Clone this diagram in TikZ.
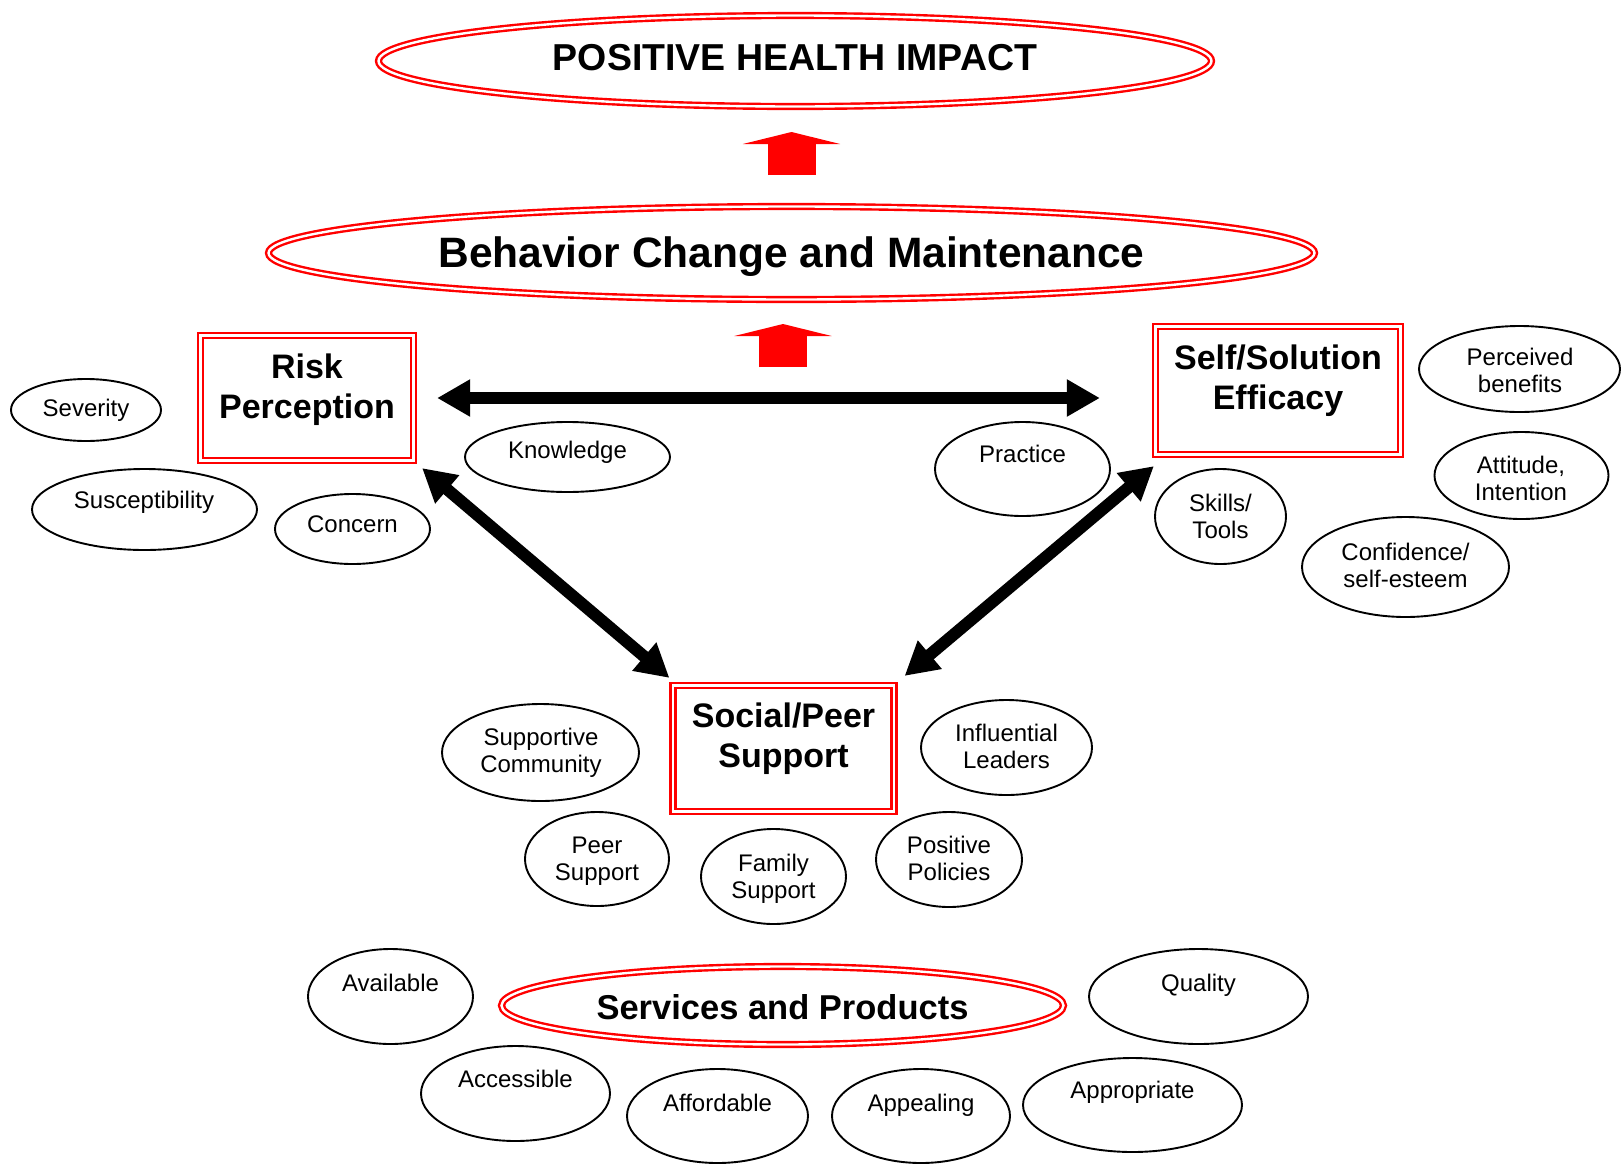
\documentclass[tikz,border=0pt]{standalone}
\usepackage{fontspec}
\setmainfont{Liberation Sans}
\usetikzlibrary{shapes.geometric,arrows.meta}

\begin{document}
\begin{tikzpicture}[x=1pt,y=-1pt,
  redline/.style={draw=red, double=white, double distance=2.4pt, line width=2.4pt},
  bigoval/.style={ellipse, redline, inner sep=0pt, outer sep=0pt},
  titlebox/.style={rectangle, redline, inner sep=0pt, outer sep=3.6pt},
  oval/.style={ellipse, draw=black, line width=1.9pt, inner sep=0pt, outer sep=0pt},
  lbl/.style={font=\fontsize{24pt}{27pt}\selectfont, align=center, anchor=base, inner sep=0pt},
  boxlbl/.style={font=\bfseries\fontsize{34pt}{40pt}\selectfont, align=center, anchor=base, inner sep=0pt},
  link/.style={line width=12pt, {Triangle[length=33pt,width=35pt]}-{Triangle[length=33pt,width=35pt]}},
  lift/.style={draw=red, line width=48pt, -{Triangle[length=12pt,width=97pt]}}]

\useasboundingbox[fill=white] (0,0) rectangle (1623,1165);

% --- outcome ellipses ---
\node[bigoval, minimum width=833pt, minimum height=91pt] (impact) at (795,61) {};
\node[font=\bfseries\fontsize{37.5pt}{40pt}\selectfont, anchor=base, inner sep=0pt] (impact-t) at (795,70) {POSITIVE HEALTH IMPACT};

\node[bigoval, minimum width=1046pt, minimum height=93pt] (behav) at (791.5,253) {};
\node[font=\bfseries\fontsize{42.5pt}{46pt}\selectfont, anchor=base, inner sep=0pt] (behav-t) at (791.5,267) {Behavior Change and Maintenance};

% --- block arrows between levels ---
\draw[lift, shorten <=31.5pt, shorten >=25.5pt] (behav.north) -- (behav.north |- impact.south);
\coordinate (liftbase) at (783,367);
\draw[lift, shorten >=24.5pt] (liftbase) -- (liftbase |- behav.south);

% --- three determinants (labels anchored on their last line) ---
\node[titlebox, minimum width=213pt, minimum height=125pt] (risk) at (307,398) {};
\node[boxlbl] (risk-t) at (307,418) {Risk\\Perception};

\node[titlebox, minimum width=245pt, minimum height=128pt] (self) at (1278,390.5) {};
\node[boxlbl] (self-t) at (1278,409) {Self/Solution\\Efficacy};

\node[titlebox, minimum width=221pt, minimum height=126pt] (social) at (783.5,748.5) {};
\node[boxlbl] (social-t) at (783.5,767) {Social/Peer\\Support};

% --- links between determinants ---
\draw[link, shorten <=20pt, shorten >=52pt] (risk.east) -- (risk.east -| self.west);
\draw[link] ([xshift=5pt,yshift=-4pt]risk.south east) -- ([yshift=4pt]social.north west);
\draw[link] ([xshift=2pt,yshift=-8pt]self.south west) -- ([xshift=7pt,yshift=6pt]social.north east);

% --- risk perception factors ---
\node[oval, minimum width=150pt, minimum height=62pt] (sev) at (86,410) {};
\node[lbl] at (86,416) {Severity};
\node[oval, minimum width=225pt, minimum height=81pt] (sus) at (144.5,509.5) {};
\node[lbl] at (144,508) {Susceptibility};
\node[oval, minimum width=155pt, minimum height=70pt] (con) at (352.5,529) {};
\node[lbl] at (352.5,532) {Concern};
\node[oval, minimum width=205pt, minimum height=70pt] (know) at (567.5,457) {};
\node[lbl] at (567.5,458) {Knowledge};

% --- efficacy factors ---
\node[oval, minimum width=175pt, minimum height=94pt] (prac) at (1022.5,469) {};
\node[lbl] at (1022.5,462) {Practice};
\node[oval, minimum width=131pt, minimum height=95pt] (skill) at (1220.5,516.5) {};
\node[lbl] at (1220.5,538) {Skills/\\Tools};
\node[oval, minimum width=201pt, minimum height=86pt] (benef) at (1519.5,369) {};
\node[lbl] at (1520,392) {Perceived\\benefits};
\node[oval, minimum width=174pt, minimum height=87pt] (att) at (1521.5,475.5) {};
\node[lbl] at (1521,500) {Attitude,\\Intention};
\node[oval, minimum width=207pt, minimum height=100pt] (conf) at (1405.5,567) {};
\node[lbl] at (1405.5,587) {Confidence/\\self-esteem};

% --- social support factors ---
\node[oval, minimum width=197pt, minimum height=97pt] (comm) at (540.5,752.5) {};
\node[lbl] at (541,772) {Supportive\\Community};
\node[oval, minimum width=171pt, minimum height=95pt] (lead) at (1006.5,747.5) {};
\node[lbl] at (1006.5,768) {Influential\\Leaders};
\node[oval, minimum width=144pt, minimum height=94pt] (peer) at (597,859) {};
\node[lbl] at (597,880) {Peer\\Support};
\node[oval, minimum width=145pt, minimum height=95pt] (fam) at (773.5,876.5) {};
\node[lbl] at (773.5,898) {Family\\Support};
\node[oval, minimum width=146pt, minimum height=95pt] (pol) at (949,859.5) {};
\node[lbl] at (949,880) {Positive\\Policies};

% --- services and products ---
\node[bigoval, minimum width=562pt, minimum height=78pt] (serv) at (782.5,1005.5) {};
\node[font=\bfseries\fontsize{34.5pt}{38pt}\selectfont, anchor=base, inner sep=0pt] (serv-t) at (782.5,1019) {Services and Products};

\node[oval, minimum width=165pt, minimum height=95pt] (avail) at (390.5,996.5) {};
\node[lbl] at (390.5,991) {Available};
\node[oval, minimum width=189pt, minimum height=95pt] (acc) at (515.5,1093.5) {};
\node[lbl] at (515.5,1087) {Accessible};
\node[oval, minimum width=181pt, minimum height=94pt] (aff) at (717.5,1116) {};
\node[lbl] at (717.5,1111) {Affordable};
\node[oval, minimum width=178pt, minimum height=94pt] (app) at (921,1116) {};
\node[lbl] at (921,1111) {Appealing};
\node[oval, minimum width=219pt, minimum height=94pt] (appr) at (1132.5,1105) {};
\node[lbl] at (1132.5,1098) {Appropriate};
\node[oval, minimum width=219pt, minimum height=95pt] (qual) at (1198.5,996.5) {};
\node[lbl] at (1198.5,991) {Quality};

\end{tikzpicture}
\end{document}
